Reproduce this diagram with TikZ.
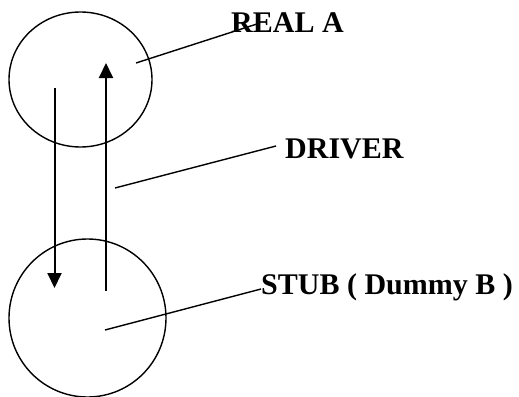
\documentclass[tikz,border=0pt]{standalone}
\usepackage{fontspec}
\setmainfont{Liberation Serif}
\usetikzlibrary{shapes.geometric,arrows.meta}
\begin{document}
\begin{tikzpicture}[x=1pt,y=-1pt,
  unit/.style={draw,ellipse,line width=1.4pt,inner sep=0pt},
  lbl/.style={font=\fontsize{30}{34}\selectfont\bfseries,anchor=base west,inner sep=0pt},
  leader/.style={line width=1.4pt},
  flow/.style={line width=2pt,-{Triangle[length=15pt,width=14pt]}}]
\useasboundingbox (0,0) rectangle (519,396);
\node[unit,minimum width=143pt,minimum height=135pt] (A) at (80.5,79.5) {};
\node[unit,minimum width=157pt,minimum height=158pt] (B) at (87.5,318) {};
\node[lbl] (ra) at (231,33) {REAL A};
\node[lbl] (dr) at (285,158) {DRIVER};
\node[lbl] (st) at (261,294) {STUB ( Dummy B )};
\coordinate (a1) at (136,63);
\coordinate (a2) at (260,23);
\coordinate (d1) at (115,188);
\coordinate (d2) at (276,146);
\coordinate (s1) at (105,330);
\coordinate (s2) at (261,289);
\coordinate (l1) at (54.5,88);
\coordinate (l2) at (54.5,288);
\coordinate (r1) at (106,291);
\coordinate (r2) at (106,63);
\draw[leader] (a1) -- (a2);
\draw[leader] (d1) -- (d2);
\draw[leader] (s1) -- (s2);
\draw[flow] (l1) -- (l2);
\draw[flow] (r1) -- (r2);
\end{tikzpicture}
\end{document}
